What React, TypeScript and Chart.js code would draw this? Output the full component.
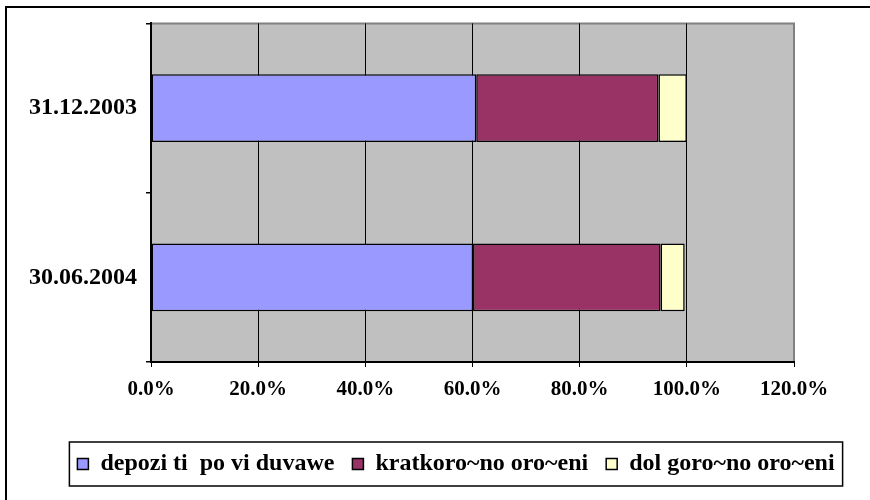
import { useEffect, useRef } from "react";
import { Chart, registerables } from "chart.js";

Chart.register(...registerables);

const categories = ["31.12.2003", "30.06.2004"];
const seriesNames = ["depozi ti  po vi duvawe", "kratkoro~no oro~eni", "dol goro~no oro~eni"];
const depoziti = [60.7, 60.1];
const kratkorocni = [34.0, 35.0];
const dolgorocni = [5.3, 4.5];
const xMin = 0;
const xMax = 120;
const xStep = 20;
const seriesColors = ["#9999FF", "#993366", "#FFFFCC"];

const LEGEND_PAD = 18;
const LEGEND_LEFT = 42;

const framePlugin = {
  id: "frame",
  beforeDraw(chart: any) {
    const { ctx, chartArea: a } = chart;
    const lg = chart.legend;
    if (lg && lg.left !== LEGEND_LEFT) {
      lg.left = LEGEND_LEFT;
    }
    ctx.save();
    ctx.fillStyle = "#ffffff";
    ctx.fillRect(0, 0, chart.width, chart.height);
    ctx.fillStyle = "#C0C0C0";
    ctx.fillRect(a.left, a.top, a.right - a.left, a.bottom - a.top);
    ctx.strokeStyle = "#808080";
    ctx.lineWidth = 2;
    ctx.beginPath();
    ctx.moveTo(a.left, a.top);
    ctx.lineTo(a.right, a.top);
    ctx.lineTo(a.right, a.bottom);
    ctx.stroke();
    ctx.fillStyle = "#000000";
    ctx.fillRect(5, 6, chart.width - 5, 2);
    ctx.fillRect(5, 6, 2, chart.height - 6);
    ctx.restore();
  },
  afterDraw(chart: any) {
    const lg = chart.legend;
    if (!lg || !lg.lineWidths) return;
    const { ctx } = chart;
    const lw = lg.lineWidths[0];
    const start = lg.left + LEGEND_PAD;
    const end = lg.right - lw;
    const x0 = (start + end) / 2;
    const left = x0 - 8;
    const right = x0 + lw - LEGEND_PAD + 8;
    const itemH = 24;
    const top = lg.top + LEGEND_PAD - 10;
    const h = 10 * 2 + itemH;
    ctx.save();
    ctx.strokeStyle = "#000";
    ctx.lineWidth = 1.5;
    ctx.strokeRect(left, top, right - left, h);
    ctx.restore();
  },
};

export default function App() {
  const ref = useRef<HTMLCanvasElement>(null);
  useEffect(() => {
    if (!ref.current) return;
    const mk = (i: number, data: number[]) => ({
      label: seriesNames[i],
      data,
      backgroundColor: seriesColors[i],
      borderColor: "#000000",
      borderWidth: 1.5,
      borderSkipped: false,
      categoryPercentage: 1,
      barPercentage: 0.4,
    });
    const chart = new Chart(ref.current, {
      type: "bar",
      data: {
        labels: categories,
        datasets: [mk(0, depoziti), mk(1, kratkorocni), mk(2, dolgorocni)],
      },
      plugins: [framePlugin],
      options: {
        indexAxis: "y",
        animation: false,
        responsive: false,
        devicePixelRatio: 1,
        layout: { padding: { left: 0, right: 0, top: 23, bottom: 14 } },
        plugins: {
          tooltip: { enabled: false },
          title: { display: false },
          legend: {
            position: "bottom",
            labels: {
              boxWidth: 11,
              boxHeight: 11,
              padding: LEGEND_PAD,
              color: "#000",
              font: { family: "Liberation Serif", size: 24, weight: "bold" },
            },
          },
        },
        scales: {
          x: {
            stacked: true,
            min: xMin,
            max: xMax,
            ticks: {
              stepSize: xStep,
              color: "#000",
              padding: 10,
              font: { family: "Liberation Serif", size: 21, weight: "bold" },
              callback: (v: any) => Number(v).toFixed(1) + "%",
            },
            grid: {
              color: (c: any) => (c.tick && c.tick.value === xMax ? "#808080" : "#000"),
              lineWidth: 1,
              tickLength: 5,
              tickColor: "#000",
            },
            border: { display: true, color: "#000", width: 2 },
            afterFit: (s: any) => {
              s.height = 72;
            },
          },
          y: {
            stacked: true,
            position: "left",
            ticks: {
              color: "#000",
              padding: 9,
              font: { family: "Liberation Serif", size: 24, weight: "bold" },
            },
            grid: {
              offset: true,
              drawOnChartArea: false,
              color: "#000",
              lineWidth: 1.5,
              tickLength: 5,
            },
            border: { display: true, color: "#000", width: 2 },
            afterFit: (s: any) => {
              s.width = 151;
            },
          },
          yRight: {
            type: "category",
            position: "right",
            labels: categories,
            display: true,
            grid: { display: false, drawTicks: false },
            border: { display: false },
            ticks: { display: false },
            afterFit: (s: any) => {
              s.width = 76;
            },
          },
        },
      } as any,
    });
    return () => chart.destroy();
  }, []);
  return (
    <div style={{ position: "fixed", left: 0, top: 0, width: 870, height: 500 }}>
      <canvas ref={ref} width={870} height={500} />
    </div>
  );
}
